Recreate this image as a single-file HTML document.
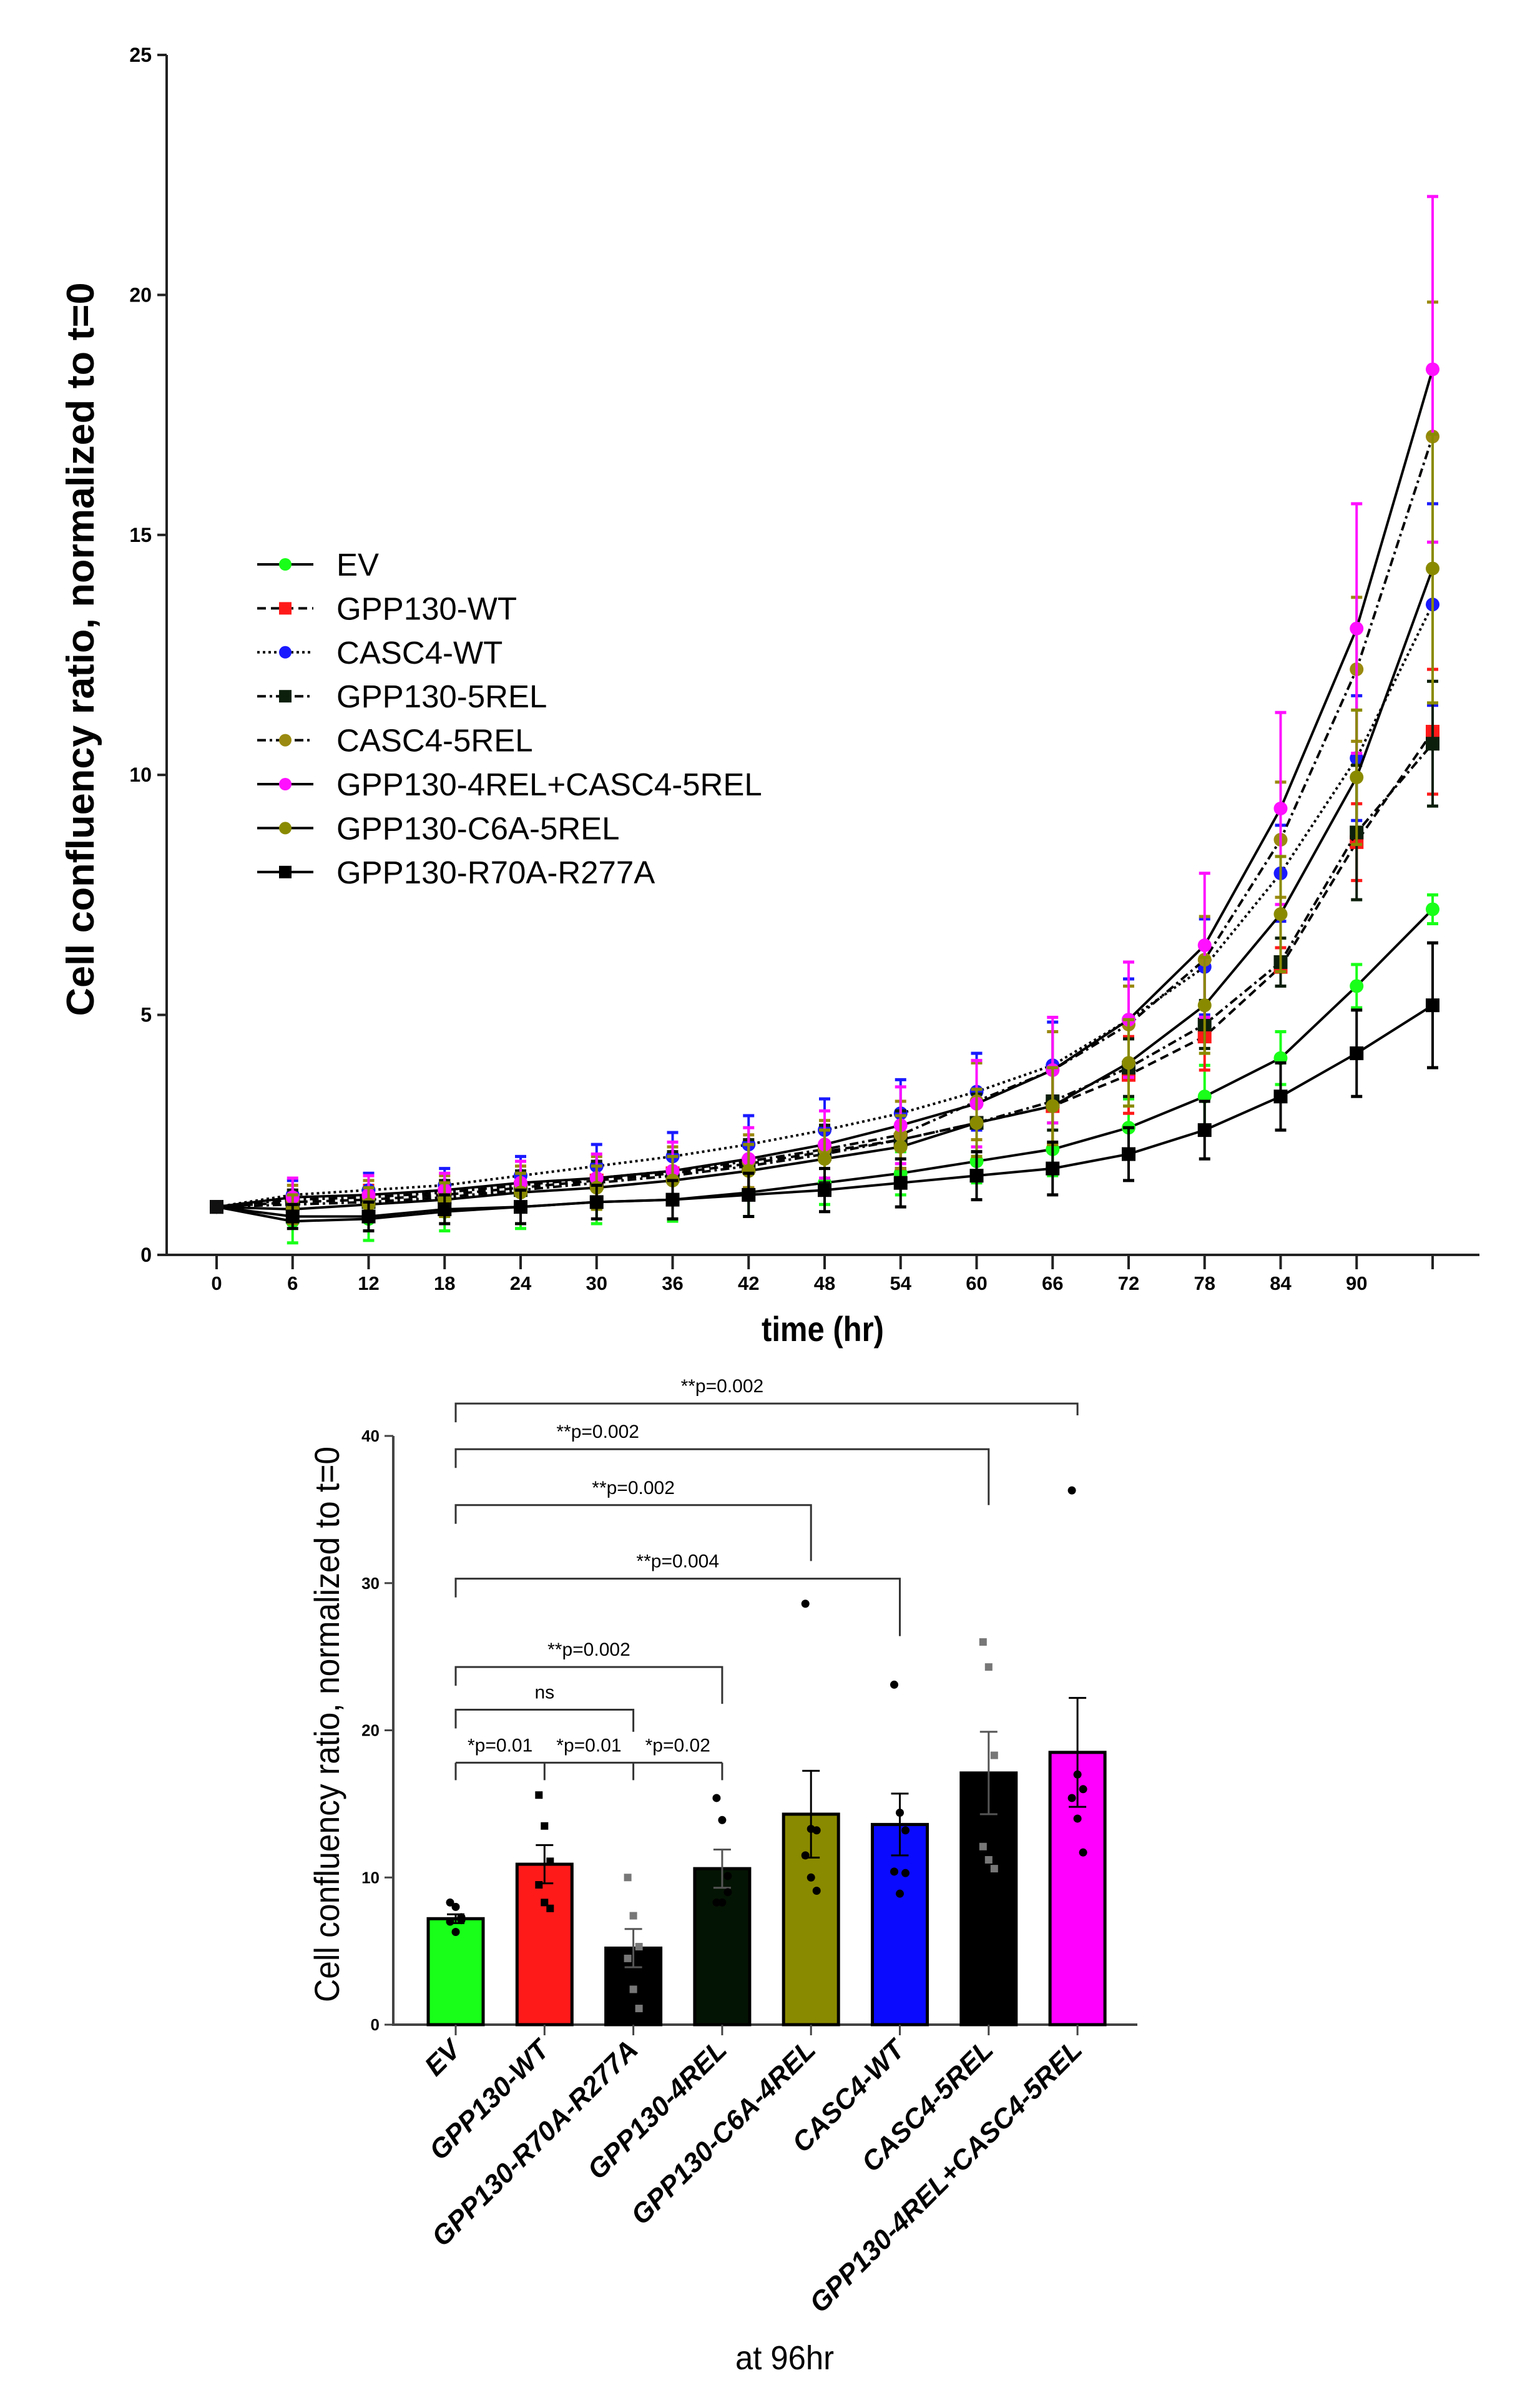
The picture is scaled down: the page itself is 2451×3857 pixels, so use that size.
<!DOCTYPE html>
<html><head><meta charset="utf-8"><style>
html,body{margin:0;padding:0;background:#fff;}
svg{display:block;font-family:"Liberation Sans",Arial,sans-serif;}
</style></head><body>
<svg id="fig" width="2451" height="3857" viewBox="0 0 2451 3857" xmlns="http://www.w3.org/2000/svg">
<g id="topchart"></g>
<g id="botchart"></g>
</svg>
<script>
// ---- line chart data ----
const times = [0,6,12,18,24,30,36,42,48,54,60,66,72,78,84,90,96];
const xTickLabels = ["0","6","12","18","24","30","36","42","48","54","60","66","72","78","84","90",""];
const yTicksTop = [0,5,10,15,20,25];
const seriesNames = ["EV","GPP130-WT","CASC4-WT","GPP130-5REL","CASC4-5REL","GPP130-4REL+CASC4-5REL","GPP130-C6A-5REL","GPP130-R70A-R277A"];
const evVals   = [1,0.7,0.75,0.9,1.0,1.1,1.15,1.3,1.5,1.7,1.95,2.2,2.65,3.3,4.1,5.6,7.2];
const wtVals   = [1,1.1,1.15,1.25,1.4,1.55,1.7,1.9,2.15,2.4,2.75,3.1,3.75,4.55,6.0,8.6,10.9];
const c4wtVals = [1,1.25,1.35,1.45,1.65,1.85,2.05,2.3,2.6,2.95,3.4,3.95,4.9,6.0,7.95,10.35,13.55];
const g5Vals   = [1,1.05,1.1,1.2,1.35,1.5,1.65,1.85,2.1,2.4,2.75,3.2,3.9,4.8,6.1,8.8,10.65];
const c45Vals  = [1,1.15,1.2,1.3,1.45,1.6,1.75,1.95,2.2,2.5,3.2,3.85,4.8,6.15,8.65,12.2,17.05];
const comboVals= [1,1.2,1.25,1.35,1.5,1.6,1.75,2.0,2.3,2.7,3.15,3.85,4.9,6.45,9.3,13.05,18.45];
const c6aVals  = [1,0.95,1.05,1.15,1.3,1.4,1.55,1.75,2.0,2.25,2.75,3.1,4.0,5.2,7.1,9.95,14.3];
const r70Vals  = [1,0.8,0.8,0.95,1.0,1.1,1.15,1.25,1.35,1.5,1.65,1.8,2.1,2.6,3.3,4.2,5.2];
const evErr   = [0,0.45,0.45,0.4,0.45,0.45,0.45,0.5,0.45,0.45,0.45,0.55,0.6,0.65,0.55,0.45,0.3];
const wtErr   = [0,0.25,0.3,0.3,0.35,0.4,0.45,0.5,0.55,0.6,0.7,0.8,0.8,0.7,0.4,0.8,1.3];
const c4wtErr = [0,0.3,0.35,0.35,0.4,0.45,0.5,0.6,0.65,0.7,0.8,0.9,0.85,1.0,1.0,1.3,2.1];
const g5Err   = [0,0.3,0.3,0.35,0.4,0.45,0.5,0.55,0.6,0.6,0.6,0.6,0.6,0.5,0.5,1.4,1.3];
const c45Err  = [0,0.3,0.35,0.35,0.4,0.45,0.5,0.55,0.6,0.7,0.8,0.8,0.8,0.9,1.2,1.5,2.8];
const comboErr= [0,0.4,0.4,0.35,0.45,0.5,0.6,0.65,0.7,0.8,0.9,1.1,1.2,1.5,2.0,2.6,3.6];
const c6aErr  = [0,0.3,0.35,0.35,0.4,0.45,0.5,0.55,0.6,0.65,0.7,0.8,0.9,1.0,1.2,1.4,2.8];
const r70Err  = [0,0.25,0.3,0.3,0.35,0.35,0.4,0.45,0.45,0.5,0.5,0.55,0.55,0.6,0.7,0.9,1.3];
const seriesVals = [evVals,wtVals,c4wtVals,g5Vals,c45Vals,comboVals,c6aVals,r70Vals];
const seriesErrs = [evErr,wtErr,c4wtErr,g5Err,c45Err,comboErr,c6aErr,r70Err];
const seriesColors = ["#19ff19","#ff1a1a","#1a1aff","#0c1f0c","#9a8a10","#ff10ff","#8a8a00","#000000"];
const seriesMarkers = ["circle","square","circle","square","circle","circle","circle","square"];
const seriesDash = ["","14,8","4,5","14,6,4,6","14,6,4,6","","","" ];

// ---- bar chart data ----
const barCats = ["EV","GPP130-WT","GPP130-R70A-R277A","GPP130-4REL","GPP130-C6A-4REL","CASC4-WT","CASC4-5REL","GPP130-4REL+CASC4-5REL"];
const barMeans = [7.2,10.9,5.2,10.6,14.3,13.6,17.1,18.5];
const barErrs = [0.3,1.3,1.3,1.3,2.95,2.1,2.8,3.7];
const barColors = ["#19ff19","#ff1a1a","#000000","#041404","#8a8a00","#0a0aff","#000000","#ff00ff"];
const barPts0 = [8.3,8.0,7.3,7.0,6.3,7.1];
const barPts1 = [15.6,13.5,11.1,9.5,8.3,7.9];
const barPts2 = [10.0,7.4,5.3,4.5,2.4,1.1];
const barPts3 = [15.4,13.9,10.1,8.3,8.3,9.0];
const barPts4 = [28.6,13.3,13.2,11.5,10.0,9.1];
const barPts5 = [23.1,14.4,13.2,10.4,8.9,10.3];
const barPts6 = [26.0,24.3,18.3,12.1,11.2,10.6];
const barPts7 = [36.3,17.0,16.0,15.4,14.0,11.7];
const barPoints = [barPts0,barPts1,barPts2,barPts3,barPts4,barPts5,barPts6,barPts7];
const yTicksBot = [0,10,20,30,40];
const bracketFrom = [0,0,0,0,0,0];
const bracketTo = [7,6,4,5,3,2];
const bracketLevel = [42.2,39.1,35.3,30.3,24.3,21.4];
const bracketRightEnd = [41.4,35.3,31.5,26.4,21.8,19.9];
const bracketLabels = ["**p=0.002","**p=0.002","**p=0.002","**p=0.004","**p=0.002","ns"];
const bracketLabelShift = [-0.5,-1.4,0,0,0,0];
const lowBracketLevel = 17.8;
const lowBracketLegs = [0,1,2,3];
const lowBracketLabels = ["*p=0.01","*p=0.01","*p=0.02"];

const NS="http://www.w3.org/2000/svg";
function mk(parent,tag,attrs,text){const e=document.createElementNS(NS,tag);for(const k in attrs)e.setAttribute(k,attrs[k]);if(text!==undefined)e.textContent=text;parent.appendChild(e);return e;}

// ===== TOP CHART =====
const topG=document.getElementById('topchart');
const X=t=>347+t*(2295-347)/96;
const Y=v=>2010-v*(2010-88)/25;
let e;
e=mk(topG,'line',{x1:267,y1:88,x2:267,y2:2012,stroke:'#222','stroke-width':4});


e=mk(topG,'line',{x1:265,y1:2010,x2:2370,y2:2010,stroke:'#222','stroke-width':4});


yTicksTop.forEach(v=>{
  mk(topG,'line',{x1:252,y1:Y(v),x2:267,y2:Y(v),stroke:'#222','stroke-width':4});
  const t=mk(topG,'text',{x:243,y:Y(v)+11,'text-anchor':'end','font-size':32,'font-weight':'bold'},String(v));
  
  
});
times.forEach((tm,i)=>{
  mk(topG,'line',{x1:X(tm),y1:2010,x2:X(tm),y2:2033,stroke:'#222','stroke-width':4});
  const t=mk(topG,'text',{x:X(tm),y:2066,'text-anchor':'middle','font-size':31,'font-weight':'bold'},xTickLabels[i]);
  
  
});
e=mk(topG,'text',{x:0,y:0,transform:'translate(150,1040) rotate(-90)','text-anchor':'middle','font-size':62,'font-weight':'bold',textLength:1175,lengthAdjust:'spacingAndGlyphs'},'Cell confluency ratio, normalized to t=0');


e=mk(topG,'text',{x:1318,y:2148,'text-anchor':'middle','font-size':56,'font-weight':'bold',textLength:196,lengthAdjust:'spacingAndGlyphs'},'time (hr)');



function marker(g,type,x,y,color,r){
  if(type==='square') return mk(g,'rect',{x:x-r,y:y-r,width:2*r,height:2*r,fill:color});
  return mk(g,'circle',{cx:x,cy:y,r:r,fill:color});
}
seriesVals.forEach((vals,si)=>{
  const g=mk(topG,'g',{});
  
  
  const errs=seriesErrs[si],col=seriesColors[si];
  times.forEach((t,i)=>{
    if(errs[i]<=0) return;
    const x=X(t);
    mk(g,'line',{x1:x,y1:Y(vals[i]+errs[i]),x2:x,y2:Y(vals[i]-errs[i]),stroke:col,'stroke-width':4});
    mk(g,'line',{x1:x-9,y1:Y(vals[i]+errs[i]),x2:x+9,y2:Y(vals[i]+errs[i]),stroke:col,'stroke-width':5});
    mk(g,'line',{x1:x-9,y1:Y(vals[i]-errs[i]),x2:x+9,y2:Y(vals[i]-errs[i]),stroke:col,'stroke-width':5});
  });
  const pts=times.map((t,i)=>X(t)+','+Y(vals[i])).join(' ');
  const pl=mk(g,'polyline',{points:pts,fill:'none',stroke:'#000','stroke-width':4});
  if(seriesDash[si]) pl.setAttribute('stroke-dasharray',seriesDash[si]);
  times.forEach((t,i)=>{
    const m=marker(g,seriesMarkers[si],X(t),Y(vals[i]),i===0?'#111':col,11);
    
    
  });
});
// legend
const lg=mk(topG,'g',{});


seriesNames.forEach((n,i)=>{
  const y=904+i*70.4;
  const ge=mk(lg,'g',{});
  
  
  const l=mk(ge,'line',{x1:412,y1:y,x2:502,y2:y,stroke:'#000','stroke-width':4});
  if(seriesDash[i]) l.setAttribute('stroke-dasharray',seriesDash[i]);
  marker(ge,seriesMarkers[i],457,y,seriesColors[i],10);
  mk(ge,'text',{x:539,y:y+18,'font-size':51},n);
});

// ===== BOTTOM CHART =====
const botG=document.getElementById('botchart');
const BX=i=>730+i*142.3;
const BY=v=>3243-v*(3243-2300)/40;
e=mk(botG,'line',{x1:630,y1:2300,x2:630,y2:3245,stroke:'#444','stroke-width':4});


e=mk(botG,'line',{x1:628,y1:3243,x2:1822,y2:3243,stroke:'#444','stroke-width':4});


yTicksBot.forEach(v=>{
  mk(botG,'line',{x1:616,y1:BY(v),x2:630,y2:BY(v),stroke:'#444','stroke-width':3});
  const t=mk(botG,'text',{x:608,y:BY(v)+9,'text-anchor':'end','font-size':26,'font-weight':'bold'},String(v));
  
  
});
e=mk(botG,'text',{x:0,y:0,transform:'translate(543,2762) rotate(-90)','text-anchor':'middle','font-size':56,textLength:890,lengthAdjust:'spacingAndGlyphs'},'Cell confluency ratio, normalized to t=0');


barCats.forEach((c,i)=>{
  const cx=BX(i),w=88;
  const g=mk(botG,'g',{});
  
  
  mk(g,'rect',{x:cx-w/2,y:BY(barMeans[i]),width:w,height:BY(0)-BY(barMeans[i]),fill:barColors[i],stroke:'#000','stroke-width':5});
  mk(botG,'line',{x1:cx,y1:3243,x2:cx,y2:3260,stroke:'#444','stroke-width':3});
  const ty=BY(barMeans[i]+barErrs[i]),by=BY(barMeans[i]-barErrs[i]);
  const ec=(barColors[i]==='#000000'||barColors[i]==='#041404')?'#555':'#000';
  mk(g,'line',{x1:cx,y1:ty,x2:cx,y2:by,stroke:ec,'stroke-width':3});
  mk(g,'line',{x1:cx-14,y1:ty,x2:cx+14,y2:ty,stroke:ec,'stroke-width':3});
  mk(g,'line',{x1:cx-14,y1:by,x2:cx+14,y2:by,stroke:ec,'stroke-width':3});
  const pc=(barColors[i]==='#000000')?'#777':'#000';
  const sq=(i===1||i===2||i===6);
  barPoints[i].forEach((p,k)=>{
    const dx=((k%3)-1)*9;
    const m=sq?mk(g,'rect',{x:cx+dx-6,y:BY(p)-6,width:12,height:12,fill:pc}):mk(g,'circle',{cx:cx+dx,cy:BY(p),r:6.5,fill:pc});
    
    
  });
  const t=mk(botG,'text',{x:0,y:0,transform:`translate(${cx+10},${3286}) rotate(-45)`,'text-anchor':'end','font-size':44,'font-weight':'bold','font-style':'italic'},c);
  
  
});
// brackets
bracketFrom.forEach((f,i)=>{
  const g=mk(botG,'g',{});
  
  
  const x1=BX(f),x2=BX(bracketTo[i]),y=BY(bracketLevel[i]);
  mk(g,'polyline',{points:`${x1},${y+30} ${x1},${y} ${x2},${y} ${x2},${BY(bracketRightEnd[i])}`,fill:'none',stroke:'#333','stroke-width':3});
  mk(g,'text',{x:(x1+x2)/2+bracketLabelShift[i]*142.3,y:y-18,'text-anchor':'middle','font-size':30},bracketLabels[i]);
});
{
  const g=mk(botG,'g',{});
  
  
  const y=BY(lowBracketLevel);
  mk(g,'line',{x1:BX(0),y1:y,x2:BX(3),y2:y,stroke:'#333','stroke-width':3});
  lowBracketLegs.forEach(k=>mk(g,'line',{x1:BX(k),y1:y,x2:BX(k),y2:y+28,stroke:'#333','stroke-width':3}));
  lowBracketLabels.forEach((t,k)=>mk(g,'text',{x:(BX(k)+BX(k+1))/2,y:y-18,'text-anchor':'middle','font-size':30},t));
}
e=mk(botG,'text',{x:1257,y:3795,'text-anchor':'middle','font-size':54,textLength:158,lengthAdjust:'spacingAndGlyphs'},'at 96hr');


</script>
</body></html>
